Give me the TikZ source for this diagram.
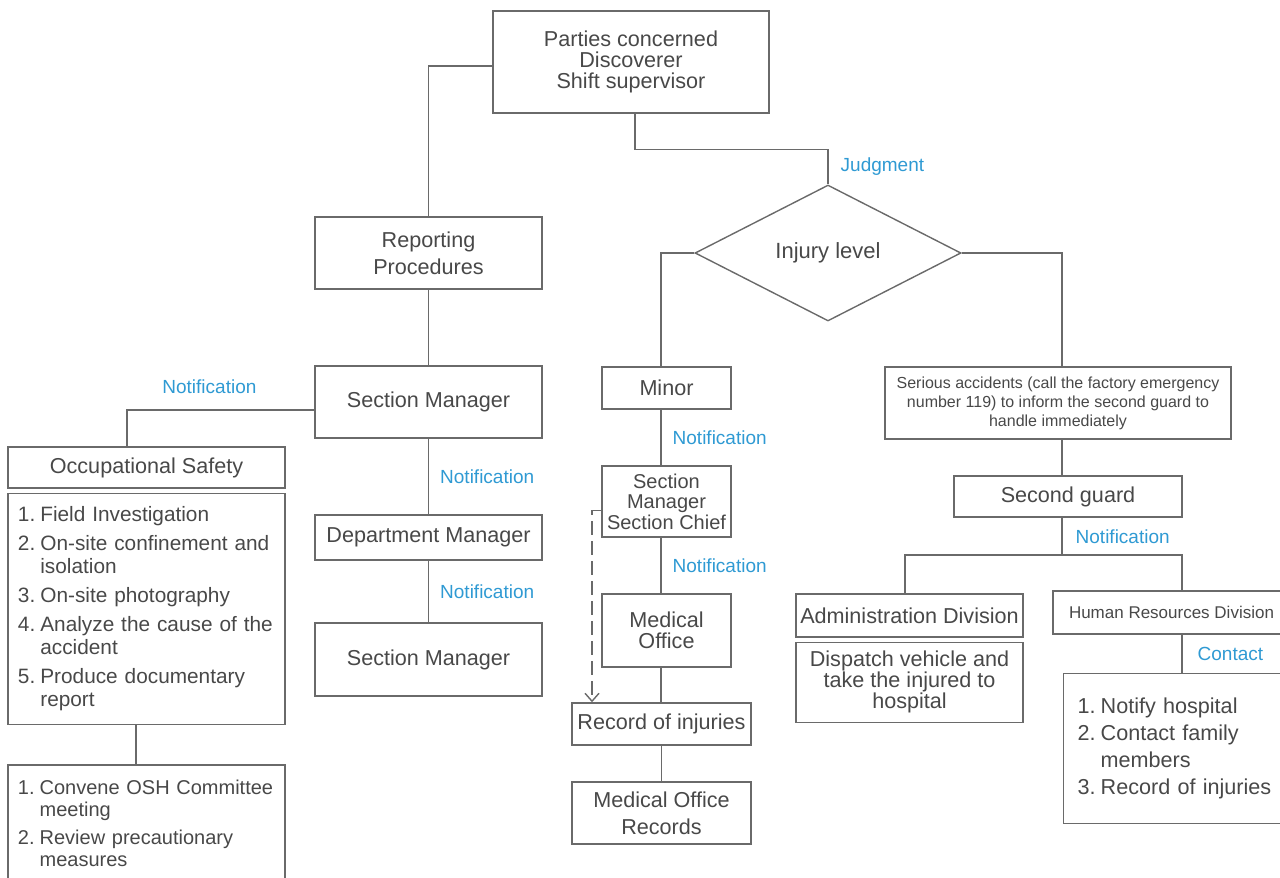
\documentclass[tikz,border=0pt]{standalone}
\usepackage{fontspec}
\setmainfont{Liberation Sans}
\usetikzlibrary{positioning, shapes.geometric, arrows.meta}
\definecolor{linegray}{HTML}{6A6A6A}
\definecolor{textgray}{HTML}{484848}
\definecolor{noteblue}{HTML}{2F9AD3}

\begin{document}
\begin{tikzpicture}[
    x=0.5pt, y=-0.5pt,
    >={Straight Barb[length=4pt, width=7pt]},
    link/.style={draw=linegray, line width=0.7pt},
    box/.style={rectangle, draw=linegray, line width=0.7pt, text=textgray,
        align=center, inner sep=1pt, font=\fontsize{10.8}{10.5}\selectfont},
    decision/.style={diamond, aspect=2, draw=linegray, line width=0.7pt,
        text=textgray, inner sep=0pt, font=\fontsize{11}{13}\selectfont},
    listbox/.style={box, align=left, inner xsep=5pt, % numbered steps
        font=\fontsize{10.4}{11.5}\selectfont},
    note/.style={text=noteblue, inner sep=1pt, font=\fontsize{9.5}{11}\selectfont}
]

\useasboundingbox (0,0) rectangle (1280,878);
\clip (0,0) rectangle (1280,878);

% Column guides
\coordinate (midcol) at (661,0);
\coordinate (rightcol) at (1062,0);
\coordinate (fork) at (1062,555);

% Top node
\node[box, minimum width=138pt, minimum height=51pt] (top) at (631,62)
    {Parties concerned\\Discoverer\\Shift supervisor};
\node[decision, minimum width=133pt, minimum height=68pt] (judge) at (828,253) {Injury level};

% Reporting chain
\node[box, minimum width=113.5pt, minimum height=36pt] (report) at (428.5,253)
    {Reporting\\[3pt]Procedures};
\node[box, minimum width=113.5pt, minimum height=36pt] (sm1) at (428.5,402) {Section Manager};
\node[box, minimum width=113.5pt, minimum height=22.5pt] (dm) at (428.5,537.5) {Department Manager};
\node[box, minimum width=113.5pt, minimum height=36.5pt] (sm2) at (428.5,659.5) {Section Manager};

% Occupational safety
\node[box, minimum width=138.5pt, minimum height=20.5pt] (occ) at (146.5,467.5) {Occupational Safety};
\node[listbox, text width=128.5pt, minimum height=115.5pt, below=2pt of occ] (occlist) {%
  \begin{tabular}{@{}r@{\hspace{2.5pt}}l@{}}
  1. & Field Investigation\\[3pt]
  2. & On-site confinement and\\
     & isolation\\[3pt]
  3. & On-site photography\\[3pt]
  4. & Analyze the cause of the\\
     & accident\\[3pt]
  5. & Produce documentary\\
     & report
  \end{tabular}};
\node[listbox, text width=128.5pt, inner ysep=7pt, font=\fontsize{10}{11}\selectfont,
    below=19.5pt of occlist] (occmeet) {%
  \begin{tabular}{@{}r@{\hspace{2.5pt}}l@{}}
  1. & Convene OSH Committee\\
     & meeting\\[3pt]
  2. & Review precautionary\\
     & measures\\
  \multicolumn{2}{l}{\rule{0pt}{40pt}}
  \end{tabular}};

% Minor injuries
\node[box, minimum width=64.5pt, minimum height=21pt] (minor) at (666.5,388) {Minor};
\node[box, minimum width=64.5pt, minimum height=35.5pt, font=\fontsize{10}{10.3}\selectfont]
    (secchief) at (666.5,501.5) {Section\\Manager\\Section Chief};
\node[box, minimum width=64.5pt, minimum height=36.5pt] (medoff) at (666.5,630.5) {Medical\\Office};
\node[box, minimum width=89.5pt, minimum height=21pt] (record) at (661.5,724) {Record of injuries};
\node[box, minimum width=89.5pt, minimum height=31pt] (medrec) at (661.5,813)
    {Medical Office\\[3pt]Records};

% Serious accidents
\node[box, minimum width=173pt, minimum height=36pt, font=\fontsize{8}{9.5}\selectfont]
    (serious) at (1058,403)
    {Serious accidents (call the factory emergency\\number 119) to inform the second guard to\\handle immediately};
\node[box, minimum width=114pt, minimum height=20.5pt] (guard) at (1068,496.5) {Second guard};
\node[box, minimum width=113.5pt, minimum height=21.5pt] (admin) at (909.5,615.5) {Administration Division};
\node[box, minimum width=113.5pt, minimum height=40pt, below=2pt of admin] (dispatch)
    {Dispatch vehicle and\\take the injured to\\hospital};
\node[box, minimum width=118.5pt, minimum height=21.5pt, font=\fontsize{8.5}{10}\selectfont]
    (hr) at (1171.5,612.5) {Human Resources Division};
\node[listbox, text width=99.5pt, inner xsep=7pt, minimum height=75pt,
    font=\fontsize{10.8}{13.5}\selectfont, anchor=north west] (hrlist) at (1063,673) {%
  \begin{tabular}{@{}r@{\hspace{2.5pt}}l@{}}
  1. & Notify hospital\\
  2. & Contact family\\
     & members\\
  3. & Record of injuries
  \end{tabular}};

% Edges and annotations
\draw[link] ([yshift=-2pt]top.west) -| (report.north);
\draw[link] ([xshift=2pt]top.south) -- ++(0,36) -| node[note, pos=0.75, right=5pt] (noteJudge) {Judgment} (judge.north);
\draw[link] (report) -- (sm1);
\draw[link] ([yshift=-4pt]sm1.west) -| node[note, pos=0.28, above=7pt] (noteOcc) {Notification} ([xshift=-9.75pt]occ.north);
\draw[link] (sm1) -- node[note, right=4.5pt] (noteDm) {Notification} (dm);
\draw[link] (dm) -- node[note, right=4.5pt] (noteSm) {Notification} (sm2);
\draw[link] ([xshift=-5.25pt]occlist.south) -- ([xshift=-5.25pt]occmeet.north);

\draw[link] (judge.west) -| (midcol |- minor.north);
\draw[link] (minor.south -| midcol) -- node[note, right=4.5pt] (noteChief) {Notification} (secchief.north -| midcol);
\draw[link] (secchief.south -| midcol) -- node[note, right=4.5pt] (noteMed) {Notification} (medoff.north -| midcol);
\draw[link] (medoff.south -| midcol) -- (record.north -| midcol);
\draw[link] (record) -- (medrec);
\draw[link, dash pattern=on 7pt off 3pt, ->] ([yshift=-4.5pt]secchief.west) -| ([xshift=-34.75pt]record.north);

\draw[link] (judge.east) -| (rightcol |- serious.north);
\draw[link] (serious.south -| rightcol) -- (guard.north -| rightcol);
\draw[link] (guard.south -| rightcol) -- node[note, right=5.5pt] (noteGuard) {Notification} (fork);
\draw[link] ([xshift=-2.25pt]admin.north) |- (fork) -| ([xshift=5.25pt]hr.north);
\draw[link] ([xshift=5.25pt]hr.south) -- node[note, right=6.5pt] (noteContact) {Contact} ([xshift=5.25pt]hr.south |- hrlist.north);

\end{tikzpicture}
\end{document}
